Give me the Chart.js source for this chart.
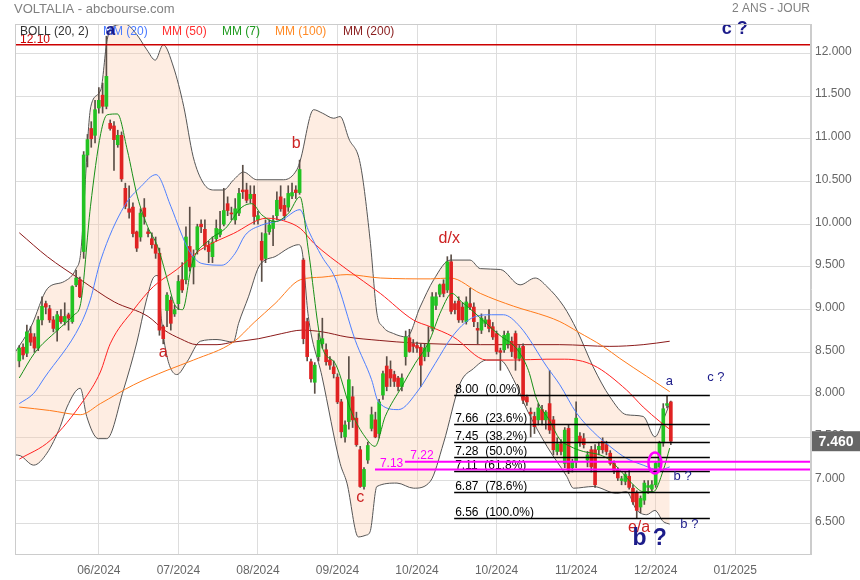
<!DOCTYPE html>
<html>
<head>
<meta charset="utf-8">
<script src="https://cdn.jsdelivr.net/npm/chart.js@4.4.1/dist/chart.umd.min.js"></script>
<style>
html, body { margin: 0; padding: 0; background: #fff; }
canvas { display: block; }
</style>
</head>
<body>
<canvas id="myChart" width="860" height="580"></canvas>
<script>
// daily candles (index = trading day)
var opens = [8.40,8.56,8.49,8.72,8.68,8.55,8.88,9.07,9.01,8.88,
  8.76,8.92,8.86,8.94,8.86,9.29,9.35,9.68,10.81,11.12,
  11.04,11.36,11.51,11.38,11.18,11.15,10.93,11.04,10.42,10.18,
  10.20,9.91,9.85,10.19,9.91,9.83,9.76,9.66,8.80,8.99,
  9.11,8.95,9.07,9.35,9.35,9.74,9.50,9.70,10.00,9.94,
  9.75,9.62,9.83,9.88,10.00,10.24,10.13,10.05,10.13,10.40,
  10.40,10.30,10.35,10.05,9.80,9.60,9.91,9.95,10.10,10.32,
  10.22,10.20,10.33,10.40,10.37,9.58,8.86,8.39,8.15,8.45,
  8.60,8.53,8.41,8.33,8.21,7.92,7.51,7.69,7.98,7.73,
  7.36,6.93,7.24,7.61,7.71,7.55,8.00,8.34,8.30,8.24,
  8.20,8.10,8.45,8.67,8.60,8.58,8.56,8.45,8.51,8.78,
  9.05,9.18,9.30,9.23,9.56,9.07,9.10,9.03,8.86,9.07,
  9.03,8.78,8.76,8.84,8.88,8.80,8.72,8.52,8.53,8.60,
  8.63,8.72,8.43,8.57,7.98,7.80,7.75,7.71,7.83,7.71,
  7.90,7.71,7.34,7.43,7.20,7.61,7.15,7.22,7.52,7.49,
  7.24,7.36,7.36,7.36,7.46,7.42,7.32,7.20,7.12,7.00,
  6.99,7.05,6.91,6.85,6.69,6.77,6.92,6.90,6.95,7.16,
  7.44,7.88,7.92];
var highs = [8.58,8.60,8.82,8.80,8.72,8.92,9.15,9.10,9.05,8.92,
  8.98,9.00,9.08,8.96,9.28,9.46,9.38,10.85,11.05,11.20,
  11.45,11.60,11.65,12.20,11.22,11.20,11.10,11.08,10.48,10.45,
  10.25,9.92,10.18,10.30,9.95,9.90,9.85,9.72,8.82,9.20,
  9.15,9.05,9.40,9.55,9.97,10.20,9.70,10.00,10.05,10.05,
  9.80,9.85,10.05,10.15,10.42,10.32,10.20,10.30,10.42,10.69,
  10.48,10.45,10.45,10.15,9.90,10.05,10.05,10.10,10.38,10.45,
  10.30,10.45,10.48,10.45,10.75,9.60,8.90,8.42,8.38,8.72,
  8.90,8.60,8.45,8.40,8.25,7.95,7.70,8.45,8.10,7.80,
  7.40,7.15,7.45,7.86,7.80,7.95,8.28,8.45,8.40,8.28,
  8.22,8.25,8.75,8.77,8.65,8.62,8.60,8.60,8.80,9.20,
  9.20,9.30,9.35,9.62,9.64,9.10,9.15,9.08,9.15,9.25,
  9.08,8.85,8.95,8.92,9.00,8.85,8.75,8.55,8.75,8.75,
  8.68,8.75,8.58,8.60,8.00,7.85,7.80,7.90,7.88,7.82,
  8.29,7.75,7.50,7.48,7.62,7.65,7.25,7.92,7.56,7.55,
  7.34,7.40,7.42,7.45,7.50,7.46,7.35,7.23,7.15,7.05,
  7.10,7.12,6.95,6.88,6.82,7.00,7.00,7.00,7.22,7.46,
  7.90,7.99,7.93];
var lows = [8.33,8.42,8.45,8.58,8.50,8.52,8.82,8.95,8.85,8.74,
  8.63,8.84,8.82,8.76,8.84,9.27,9.14,9.60,10.67,10.90,
  10.95,11.30,11.30,11.35,11.10,10.63,10.90,10.50,10.18,10.07,
  9.85,9.68,9.80,10.00,9.85,9.72,9.60,8.70,8.60,8.80,
  8.76,8.92,9.00,9.20,9.30,9.45,9.30,9.65,9.90,9.70,
  9.55,9.55,9.80,9.85,9.98,10.10,10.05,10.00,10.10,10.30,
  10.25,10.25,10.00,10.00,9.33,9.55,9.88,9.75,10.05,10.15,
  10.05,10.15,10.30,10.30,10.35,8.60,8.40,8.15,8.02,8.40,
  8.55,8.35,8.30,8.20,7.90,7.50,7.45,7.60,7.62,7.40,
  6.92,6.90,7.20,7.58,7.50,7.50,7.95,8.05,8.10,8.10,
  8.05,8.05,8.35,8.50,8.50,8.50,8.10,8.40,8.45,8.75,
  9.00,9.15,9.15,9.20,8.95,8.95,8.85,8.85,8.83,9.00,
  8.80,8.60,8.72,8.80,8.74,8.65,8.48,8.29,8.50,8.55,
  8.45,8.29,8.40,7.90,7.88,7.51,7.55,7.65,7.65,7.60,
  7.55,7.30,7.30,7.30,7.15,7.08,7.10,7.15,7.40,7.38,
  7.16,7.10,6.92,7.30,7.32,7.30,7.18,7.08,7.00,6.95,
  6.95,6.90,6.72,6.56,6.62,6.72,6.85,6.86,6.92,7.12,
  7.40,7.85,7.42];
var closes = [8.55,8.47,8.74,8.62,8.55,8.88,9.04,9.03,8.88,8.78,
  8.94,8.86,8.92,8.90,9.27,9.37,9.15,10.81,10.99,11.00,
  11.34,11.45,11.38,11.73,11.12,10.99,11.04,10.53,10.21,10.14,
  9.89,9.72,10.13,10.09,9.89,9.76,9.66,8.76,8.66,9.17,
  8.84,9.00,9.33,9.23,9.85,9.50,9.62,9.97,9.97,9.75,
  9.68,9.79,9.95,9.94,10.16,10.16,10.12,10.18,10.36,10.38,
  10.28,10.35,10.09,10.10,9.58,9.89,9.99,10.04,10.28,10.18,
  10.10,10.36,10.37,10.37,10.64,8.66,8.45,8.19,8.35,8.64,
  8.66,8.39,8.35,8.25,7.92,7.57,7.65,8.18,7.71,7.42,
  6.93,7.13,7.41,7.77,7.51,7.92,8.25,8.10,8.20,8.16,
  8.10,8.20,8.68,8.51,8.57,8.55,8.35,8.55,8.60,9.15,
  9.15,9.29,9.19,9.56,8.98,9.00,8.88,8.88,9.09,9.03,
  8.86,8.76,8.90,8.88,8.78,8.68,8.51,8.50,8.70,8.72,
  8.51,8.43,8.55,7.94,7.92,7.78,7.63,7.85,7.71,7.80,
  7.59,7.36,7.43,7.34,7.59,7.12,7.22,7.73,7.45,7.42,
  7.30,7.16,6.95,7.40,7.36,7.34,7.20,7.12,7.03,7.02,
  7.07,6.92,6.75,6.65,6.79,6.97,6.94,6.95,7.20,7.44,
  7.84,7.90,7.46];

// indicator lines: [day index, value]
var bollUpper = [[-1.1,8.50],[3.1,8.80],[7.5,9.25],[11.9,9.33],[15,9.48],[16.2,9.66],[18.9,11.38],[21.5,11.57],
  [23.2,12.16],[25,12.32],[28,12.34],[31,12.22],[33.7,12.04],[35.9,11.92],[38,12.10],[40.7,11.84],[43.4,11.38],
  [45.9,10.79],[48.6,10.48],[51.3,10.40],[53.9,10.40],[56.6,10.52],[59.2,10.61],[62.7,10.52],[65.4,10.52],
  [69.8,10.52],[73.3,10.64],[74.2,10.75],[77.7,11.34],[80,11.30],[83,11.24],[84.7,11.26],[87,11.00],[90,10.71],
  [92.6,9.82],[94.4,8.96],[96,8.80],[98.8,8.72],[102.3,8.68],[105.8,9.03],[109.4,9.35],[113.8,9.58],[119,9.58],
  [121.7,9.48],[127,9.47],[132.2,9.29],[136.2,9.37],[139.3,9.27],[143.7,9.04],[147.2,8.76],[151.5,8.33],
  [155.9,7.98],[160.3,7.77],[164.7,7.75],[167.8,7.51],[170,7.71],[171.7,7.90]];
var bollLower = [[-1.1,7.30],[0.3,7.29],[3.8,7.18],[7.3,7.32],[10.8,7.63],[12.6,7.86],[16.1,8.08],[17.8,7.75],
  [20.9,7.49],[23.1,7.49],[27.5,8.06],[31,8.61],[33.5,9.10],[35.5,9.38],[36.6,9.40],[37.5,8.90],[39,8.45],
  [41.6,8.24],[44.3,8.39],[47.8,8.63],[52.2,8.65],[56.5,8.62],[57.9,8.84],[60.5,9.15],[63.2,9.50],[64.9,9.58],
  [67.5,9.62],[71.1,9.72],[73.7,9.76],[74.6,9.70],[76.3,8.92],[79.9,8.22],[84.7,7.20],[86.5,6.97],[89.5,6.34],
  [91.5,6.36],[92.6,6.40],[94.4,6.93],[99.7,6.97],[104.1,6.91],[108.5,6.99],[112,7.44],[116.4,8.14],[119.9,8.31],
  [123.4,8.41],[126.9,8.41],[130.5,8.18],[134,7.83],[139.3,7.40],[144.5,7.05],[146.3,6.91],[151.5,6.93],
  [157.7,6.85],[160.3,6.87],[162.9,6.66],[165.6,6.60],[167.8,6.65],[170,6.52],[171.7,6.49]];
var mm20 = [[0,7.90],[3.8,8.02],[6.6,8.20],[16.1,8.82],[18.7,9.11],[21.5,9.58],[27.7,10.21],[32.1,10.44],
  [36.1,10.58],[40,10.21],[42.5,9.92],[44.7,9.70],[48.2,9.54],[53.5,9.52],[57,9.66],[59.6,9.87],[64,9.99],
  [69.3,10.05],[74.1,10.17],[76.3,9.93],[79.9,9.62],[83.4,9.37],[88.7,8.64],[93,8.18],[94.8,7.92],[100.1,7.83],
  [105.4,8.06],[109.8,8.37],[114.2,8.68],[119.4,8.90],[124.7,8.94],[127.8,8.94],[132.2,8.80],[139.3,8.33],
  [142.7,8.12],[147.1,7.79],[151.5,7.57],[155.9,7.40],[160.3,7.26],[164.7,7.18],[169.1,7.12],[171.7,7.16]];
var mm50 = [[0,7.25],[8.2,7.47],[17,7.94],[21.4,8.27],[24,8.60],[30.2,9.00],[35.4,9.27],[41.6,9.47],[47.8,9.70],
  [56.5,9.89],[65.4,10.07],[69.8,10.04],[74.2,9.95],[77.7,9.78],[86.5,9.47],[95.3,9.19],[104,8.88],[108.5,8.80],
  [114.6,8.68],[123.4,8.41],[130.5,8.41],[139.3,8.42],[144,8.42],[151.5,8.35],[160.3,8.06],[164.7,7.86],
  [169.1,7.69],[171.7,7.60]];
var mm7 = [[0,8.20],[4,8.49],[10.1,8.76],[14.5,8.94],[16.2,9.07],[18.8,10.21],[21.5,11.06],[23.2,11.28],
  [25.9,11.29],[28.5,10.87],[31.2,10.32],[33.9,9.97],[36.5,9.74],[39.1,9.35],[40.9,9.07],[43.1,9.00],[45.6,9.54],
  [50,9.81],[54.4,9.95],[58.8,10.20],[61.4,10.24],[64,10.11],[67.5,10.03],[71.1,10.13],[74.1,10.32],[76.3,9.70],
  [79.9,8.57],[83.4,8.37],[87.8,7.79],[91.3,7.51],[93.9,7.40],[96.6,7.75],[101,8.10],[104.5,8.37],[108,8.61],
  [111.5,9.00],[114.2,9.19],[116.8,9.09],[120.3,8.96],[124.7,8.78],[127.4,8.68],[130,8.60],[132,8.50],
  [134.4,8.29],[136.6,7.95],[140,7.70],[142.7,7.48],[145.4,7.40],[148.9,7.34],[153.3,7.30],[155.9,7.24],
  [158.6,7.12],[162.1,6.95],[164.7,6.87],[167.4,6.87],[170,7.12],[171.7,7.38]];
var mm100 = [[0,7.86],[8,7.82],[16.1,7.77],[21.4,7.90],[30.2,8.12],[39,8.29],[46,8.41],[56.5,8.62],[62,8.85],
  [67.5,9.07],[74.2,9.35],[79.9,9.38],[86.5,9.41],[95.3,9.37],[108.5,9.36],[113.8,9.37],[121.7,9.19],
  [130.5,9.04],[139.3,8.92],[142.7,8.86],[147.5,8.74],[154.1,8.57],[158.5,8.43],[165.6,8.22],[171.7,8.04]];
var mm200 = [[0,9.90],[7.4,9.62],[16.2,9.35],[25.1,9.09],[34,8.92],[38.3,8.76],[42.5,8.66],[46.9,8.59],
  [52.2,8.59],[56.5,8.62],[63.2,8.66],[69.3,8.72],[74.6,8.76],[80,8.74],[86.5,8.68],[95,8.64],[104,8.61],
  [121.7,8.59],[142.7,8.59],[155.9,8.57],[164.7,8.59],[171.7,8.63]];

// axis ticks
var tickIdx = [21, 42, 63, 84, 105, 126, 147, 168, 189];
var tickLabels = ['06/2024', '07/2024', '08/2024', '09/2024', '10/2024', '10/2024', '11/2024', '12/2024', '01/2025'];
var priceTicks = [6.5, 7.0, 7.5, 8.0, 8.5, 9.0, 9.5, 10.0, 10.5, 11.0, 11.5, 12.0];

// drawn levels
var resistance = 12.10;
var fibValues = [8.00, 7.66, 7.45, 7.28, 7.11, 6.87, 6.56];
var fibPct = ['0.0%', '23.6%', '38.2%', '50.0%', '61.8%', '78.6%', '100.0%'];
var pinkLevels = [7.13, 7.22];
var lastPrice = 7.46;

var FONT = 'Arial, "Liberation Sans", sans-serif';
var NAVY = '#1c1c8a';
var WAVE_RED = '#cc2222';

// wave labels: text, day index, price, colour, px size
var waveLabels = [
  ['a', 24.1, 12.273, NAVY, 17],
  ['b', 73.1, 10.94, WAVE_RED, 16],
  ['a', 38.0, 8.493, WAVE_RED, 16],
  ['c', 90.0, 6.80, WAVE_RED, 16],
  ['d/x', 113.5, 9.833, WAVE_RED, 16],
  ['e/a', 163.6, 6.445, WAVE_RED, 16],
  ['b ?', 166.4, 6.316, NAVY, 23],
  ['a', 171.6, 8.165, NAVY, 13],
  ['c ?', 183.9, 8.206, NAVY, 13],
  ['b ?', 175.1, 7.053, NAVY, 13],
  ['b ?', 176.9, 6.486, NAVY, 13],
  ['c ?', 188.9, 12.284, NAVY, 18]
];

function pts(arr) {
  return arr.map(function(p) { return {x: p[0], y: p[1]}; });
}
function lineSet(arr, color, order) {
  return {type: 'line', data: pts(arr), borderColor: color, borderWidth: 1, pointRadius: 0,
    fill: false, cubicInterpolationMode: 'monotone', order: order};
}

var idx = closes.map(function(c, i) { return i; });

var annotPlugin = {
  id: 'annot',
  afterDatasetsDraw: function(chart) {
    var ctx = chart.ctx, xs = chart.scales.x, ys = chart.scales.y, a = chart.chartArea;
    ctx.save();
    ctx.beginPath();
    ctx.rect(a.left, a.top, a.right - a.left, a.bottom - a.top);
    ctx.clip();

    // 12.10 line
    var yr = ys.getPixelForValue(resistance);
    ctx.strokeStyle = '#cc0000';
    ctx.lineWidth = 1.5;
    ctx.beginPath(); ctx.moveTo(a.left, yr); ctx.lineTo(a.right, yr); ctx.stroke();
    ctx.fillStyle = '#cc0000';
    ctx.font = '12px ' + FONT;
    ctx.textBaseline = 'alphabetic';
    ctx.textAlign = 'left';
    ctx.fillText(resistance.toFixed(2), a.left + 5, yr - 2);

    // fibonacci levels
    var fx0 = xs.getPixelForValue(114.8), fx1 = xs.getPixelForValue(182.3);
    ctx.strokeStyle = '#000';
    ctx.lineWidth = 1.3;
    fibValues.forEach(function(v, k) {
      var y = Math.round(ys.getPixelForValue(v)) + 0.5;
      ctx.beginPath(); ctx.moveTo(fx0, y); ctx.lineTo(fx1, y); ctx.stroke();
      ctx.fillStyle = '#000';
      ctx.font = '12px ' + FONT;
      ctx.fillText(v.toFixed(2) + '  (' + fibPct[k] + ')', fx0 + 1, y - 3);
    });

    // magenta levels
    ctx.strokeStyle = '#ff00ff';
    ctx.lineWidth = 2;
    var starts = [93.9, 101.8];
    pinkLevels.forEach(function(v, k) {
      var y = ys.getPixelForValue(v);
      ctx.beginPath(); ctx.moveTo(xs.getPixelForValue(starts[k]), y); ctx.lineTo(a.right, y); ctx.stroke();
    });
    ctx.fillStyle = '#ff00ff';
    ctx.font = '12px ' + FONT;
    ctx.textBaseline = 'middle';
    ctx.fillText(pinkLevels[0].toFixed(2), xs.getPixelForValue(95.2), ys.getPixelForValue(pinkLevels[0]) - 6);
    ctx.fillText(pinkLevels[1].toFixed(2), xs.getPixelForValue(103.2), ys.getPixelForValue(pinkLevels[1]) - 6);

    // circle around the crossing
    ctx.strokeStyle = '#ff00ff';
    ctx.lineWidth = 2.5;
    ctx.beginPath();
    ctx.ellipse(xs.getPixelForValue(167.8), ys.getPixelForValue(7.205), 6.5, 10.5, 0, 0, Math.PI * 2);
    ctx.stroke();

    // legend
    var legend = [['BOLL (20, 2)', 20, '#333333'], ['MM (20)', 103, '#4a7bff'], ['MM (50)', 162, '#ff3030'],
      ['MM (7)', 222, '#1f9a1f'], ['MM (100)', 275, '#ff8a25'], ['MM (200)', 343, '#8b2020']];
    ctx.font = '12px ' + FONT;
    ctx.textAlign = 'left';
    legend.forEach(function(l) {
      ctx.fillStyle = l[2];
      ctx.fillText(l[0], l[1], 32);
    });
    ctx.restore();

    // wave labels (not clipped)
    ctx.save();
    ctx.textAlign = 'center';
    ctx.textBaseline = 'middle';
    waveLabels.forEach(function(w) {
      ctx.fillStyle = w[3];
      ctx.font = (w[3] === NAVY && w[4] > 16 ? 'bold ' : '') + w[4] + 'px ' + FONT;
      ctx.fillText(w[0], xs.getPixelForValue(w[1]), ys.getPixelForValue(w[2]));
    });

    // frame
    ctx.strokeStyle = '#cccccc';
    ctx.lineWidth = 1;
    ctx.strokeRect(a.left + 0.5, a.top + 0.5, a.right - a.left - 1, a.bottom - a.top);
    ctx.restore();
  },
  afterDraw: function(chart) {
    var ctx = chart.ctx, ys = chart.scales.y, a = chart.chartArea;
    ctx.save();
    ctx.fillStyle = '#808080';
    ctx.font = '13px ' + FONT;
    ctx.textBaseline = 'middle';
    ctx.textAlign = 'left';
    ctx.fillText('VOLTALIA - abcbourse.com', 14, 9);
    ctx.font = '12px ' + FONT;
    ctx.textAlign = 'right';
    ctx.fillText('2 ANS - JOUR', 810, 9);

    // last price tag
    var y = ys.getPixelForValue(lastPrice);
    ctx.fillStyle = '#666666';
    ctx.fillRect(a.right + 1, y - 10, 860 - a.right - 1, 20);
    ctx.fillStyle = '#ffffff';
    ctx.font = 'bold 14px ' + FONT;
    ctx.textAlign = 'center';
    ctx.fillText(lastPrice.toFixed(3), a.right + 25, y + 1);
    ctx.restore();
  }
};

var ctx = document.getElementById('myChart').getContext('2d');
var myChart = new Chart(ctx, {
  type: 'bar',
  data: {
    datasets: [
      {
        type: 'line', data: pts(bollUpper), borderColor: '#555555', borderWidth: 1, pointRadius: 0,
        fill: 1, backgroundColor: 'rgba(251, 200, 165, 0.32)', cubicInterpolationMode: 'monotone', order: 20
      },
      {
        type: 'line', data: pts(bollLower), borderColor: '#555555', borderWidth: 1, pointRadius: 0,
        fill: false, cubicInterpolationMode: 'monotone', order: 19
      },
      lineSet(mm200, '#8b1a1a', 18),
      lineSet(mm100, '#ff7a1a', 17),
      // wicks
      {
        data: idx.map(function(i) { return {x: i, y: [lows[i], highs[i]]}; }),
        backgroundColor: '#5a4e46', barThickness: 1, grouped: false, order: 12
      },
      // bodies
      {
        data: idx.map(function(i) { return {x: i, y: [opens[i], closes[i]]}; }),
        backgroundColor: function(c) {
          var i = c.dataIndex;
          return closes[i] >= opens[i] ? '#22c322' : '#e02222';
        },
        barThickness: 3, minBarLength: 1, grouped: false, order: 11
      },
      lineSet(mm50, '#ff2020', 4),
      lineSet(mm20, '#4d7fff', 3),
      lineSet(mm7, '#178f17', 2)
    ]
  },
  options: {
    responsive: false,
    animation: false,
    devicePixelRatio: 1,
    layout: {padding: {left: 15, top: 24, right: 0, bottom: 0}},
    plugins: {legend: {display: false}, tooltip: {enabled: false}},
    scales: {
      x: {
        type: 'linear', min: -1.13, max: 209, offset: false,
        afterBuildTicks: function(s) { s.ticks = tickIdx.map(function(v) { return {value: v}; }); },
        afterFit: function(s) { s.height = 26; },
        ticks: {
          autoSkip: false, maxRotation: 0, padding: 9, color: '#666666',
          font: {family: FONT, size: 12},
          callback: function(v) { return tickLabels[tickIdx.indexOf(v)]; }
        },
        grid: {color: '#dddddd', drawTicks: false, offset: false},
        border: {color: '#cccccc'}
      },
      y: {
        position: 'right', min: 6.14, max: 12.343,
        afterBuildTicks: function(s) { s.ticks = priceTicks.map(function(v) { return {value: v}; }); },
        afterFit: function(s) { s.width = 49; },
        ticks: {
          padding: 4, color: '#666666', labelOffset: -2,
          font: {family: FONT, size: 12},
          callback: function(v) { return v.toFixed(3); }
        },
        grid: {color: '#dddddd', drawTicks: false},
        border: {color: '#cccccc'}
      }
    }
  },
  plugins: [annotPlugin]
});
</script>
</body>
</html>
